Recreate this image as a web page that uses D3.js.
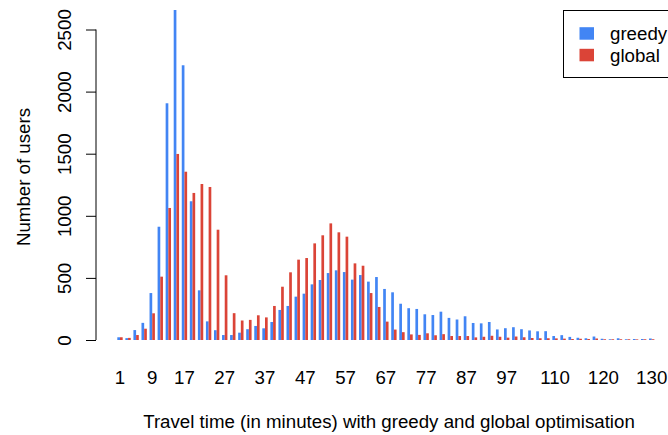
<!DOCTYPE html>
<html>
<head>
<meta charset="utf-8">
<script src="https://cdn.jsdelivr.net/npm/d3@7"></script>
<style>
  html, body { margin: 0; padding: 0; background: #fff; }
  svg text { font-family: "Liberation Sans", Arial, Helvetica, sans-serif; fill: #000; }
</style>
</head>
<body>
<svg id="chart" width="668" height="435"></svg>
<script>
// Travel time bins (minutes)
const minutes = [1,3,5,7,9,11,13,15,17,19,21,23,25,27,29,31,33,35,37,39,
  41,43,45,47,49,51,53,55,57,59,61,63,65,67,69,71,73,75,77,79,
  81,83,85,87,89,91,93,95,97,99,101,103,105,107,109,111,113,115,117,119,
  121,123,125,127,129,131,133];

const greedy = [22,15,80,138,378,912,1906,2657,2212,1117,
  400,150,79,40,40,59,87,113,94,145,
  242,274,349,373,448,483,539,561,547,486,
  523,470,507,411,384,292,256,250,207,201,
  228,178,165,191,137,134,145,85,95,103,
  87,77,70,71,32,39,25,18,14,28,
  10,6,14,6,8,8,12];

const global = [22,17,40,91,215,510,1063,1498,1355,1184,
  1256,1232,888,521,216,157,162,199,182,274,
  429,545,647,660,778,843,939,867,832,617,
  598,378,266,148,84,63,45,41,54,38,
  47,32,32,32,21,26,34,26,19,28,
  22,16,14,14,13,11,8,10,8,12,
  6,6,6,6,5,6,6];

const seriesNames = ["greedy", "global"];
const seriesColors = ["#4285F4", "#DB4437"];

const xTickMinutes = [1,9,17,27,37,47,57,67,77,87,97,109,121,133];
const xTickLabels = ["1","9","17","27","37","47","57","67","77","87","97","110","120","130"];
const yTicks = [0,500,1000,1500,2000,2500];

const xTitle = "Travel time (in minutes) with greedy and global optimisation";
const yTitle = "Number of users";

const FS = 18.7;
const svg = d3.select("#chart");

const x = d3.scaleBand().domain(minutes).range([117.31, 654.4]).paddingInner(1/3).paddingOuter(0);
const xSub = d3.scaleBand().domain(seriesNames).range([0, x.bandwidth()]).padding(0);
const y = d3.scaleLinear().domain([0, 2500]).range([340, 29.5]);
const color = d3.scaleOrdinal().domain(seriesNames).range(seriesColors);

const rows = minutes.map((m, i) => ({ m, vals: [
  { key: "greedy", v: greedy[i] },
  { key: "global", v: global[i] }
]}));

// bars
const g = svg.append("g").selectAll("g").data(rows).join("g")
  .attr("transform", d => `translate(${x(d.m)},0)`);
g.selectAll("rect").data(d => d.vals).join("rect")
  .attr("x", d => xSub(d.key))
  .attr("width", xSub.bandwidth())
  .attr("y", d => y(d.v))
  .attr("height", d => y(0) - y(d.v))
  .attr("fill", d => color(d.key));

// y axis
const yAxis = svg.append("g").attr("transform", "translate(96,0)")
  .call(d3.axisLeft(y).tickValues(yTicks).tickSize(10).tickFormat(d3.format("d")));
yAxis.select(".domain").attr("stroke", "#000").attr("d", `M-10,${y(0)}H0V${y(2500)}H-10`).attr("d", `M0,${y(0)}V${y(2500)}`);
yAxis.selectAll(".tick line").attr("stroke", "#000");
yAxis.selectAll(".tick text")
  .attr("x", null).attr("dy", null)
  .attr("transform", "translate(-25,0) rotate(-90)")
  .attr("text-anchor", "middle")
  .attr("font-size", FS)
  .attr("font-family", "Liberation Sans, Arial, sans-serif");

// x axis (labels only)
const xAxis = svg.append("g").attr("transform", "translate(0,340)")
  .call(d3.axisBottom(x).tickValues(xTickMinutes).tickSize(0)
    .tickFormat(d => xTickLabels[xTickMinutes.indexOf(d)]));
xAxis.select(".domain").remove();
xAxis.selectAll(".tick text")
  .attr("y", 43.5).attr("dy", null)
  .attr("font-size", FS)
  .attr("font-family", "Liberation Sans, Arial, sans-serif");

// titles
svg.append("text").attr("x", 389).attr("y", 428).attr("text-anchor", "middle")
  .attr("font-size", FS).text(xTitle);
svg.append("text").attr("transform", "translate(30,177) rotate(-90)")
  .attr("text-anchor", "middle").attr("font-size", FS).text(yTitle);

// legend
const leg = svg.append("g");
leg.append("rect").attr("x", 563.5).attr("y", 10.5).attr("width", 130).attr("height", 67)
  .attr("fill", "#fff").attr("stroke", "#000").attr("stroke-width", 1);
const legY = [33.4, 55];
const legBase = [40, 61.5];
seriesNames.forEach((s, i) => {
  leg.append("rect").attr("x", 579.5).attr("y", legY[i] - 6.2).attr("width", 14.5).attr("height", 12.5)
    .attr("fill", color(s));
  leg.append("text").attr("x", 610).attr("y", legBase[i]).attr("font-size", FS).text(s);
});
</script>
</body>
</html>
